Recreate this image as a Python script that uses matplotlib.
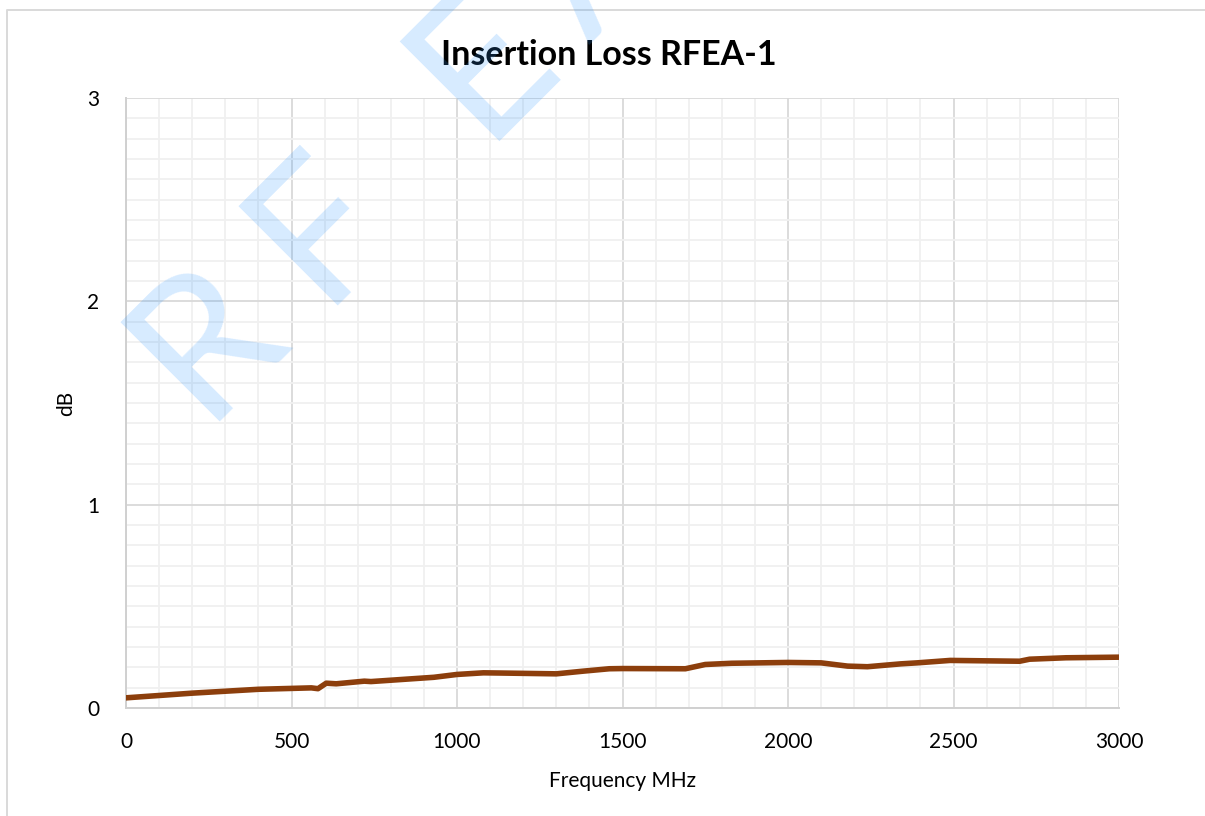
"""Insertion loss of RFEA-1 versus frequency, Excel-style chart."""

from matplotlib import pyplot
from matplotlib.lines import Line2D
from matplotlib.ticker import MultipleLocator

# Values.
freq_mhz = [0, 200, 400, 560, 580, 605, 635, 720, 740, 930, 1000, 1080,
            1130, 1300, 1380, 1460, 1500, 1690, 1750, 1830, 2000, 2100,
            2180, 2240, 2340, 2390, 2490, 2700, 2730, 2840, 3000]
loss_db = [0.050, 0.073, 0.092, 0.099, 0.095, 0.122, 0.119, 0.132, 0.130,
           0.151, 0.165, 0.173, 0.172, 0.168, 0.181, 0.193, 0.194, 0.193,
           0.214, 0.220, 0.224, 0.222, 0.206, 0.203, 0.217, 0.222, 0.234,
           0.230, 0.240, 0.247, 0.250]

title = 'Insertion Loss RFEA-1'
xlabel = 'Frequency MHz'
ylabel = 'dB'
watermark = ['R', 'F', 'E', 'A']

W, H = 1205, 816
pyplot.rc('font', family=['Lato', 'DejaVu Sans'], size=15)
fig = pyplot.figure(figsize=(W / 100, H / 100), dpi=100)

# Axes placed in pixel terms of the reference.
x0, x1, y0, y1 = 126, 1119, 98, 708
ax = fig.add_axes([x0 / W, 1 - y1 / H, (x1 - x0) / W, (y1 - y0) / H])

ax.plot(freq_mhz, loss_db, color='#8c3e0c', lw=4.0,
        solid_capstyle='round', solid_joinstyle='round', zorder=3)

ax.set_xlim(0, 3000)
ax.set_ylim(0, 3)
ax.xaxis.set_major_locator(MultipleLocator(500))
ax.xaxis.set_minor_locator(MultipleLocator(100))
ax.yaxis.set_major_locator(MultipleLocator(1))
ax.yaxis.set_minor_locator(MultipleLocator(0.1))
ax.grid(which='major', color='#d9d9d9', lw=1.3)
ax.grid(which='minor', color='#f0f0f0', lw=1.3)
ax.set_axisbelow(True)
ax.tick_params(which='both', length=0)
ax.tick_params(axis='x', pad=17)
ax.tick_params(axis='y', pad=19)
for side in ['top', 'right']:
    ax.spines[side].set_visible(False)
for side in ['left', 'bottom']:
    ax.spines[side].set_color('#d0d0d0')
    ax.spines[side].set_linewidth(1.4)

ax.set_xlabel(xlabel, fontsize=15)
ax.set_ylabel(ylabel, fontsize=15)
ax.xaxis.set_label_coords(0.5, -0.103)
ax.yaxis.set_label_coords(-0.050, 0.5)

fig.text(609 / W, 1 - 65 / H, title, ha='center', va='baseline',
         fontsize=24.5, fontweight='bold')

# Chart-area frame (top and left edges visible in the reference).
fig.add_artist(Line2D([7 / W, 7 / W, 1], [0, 1 - 9.5 / H, 1 - 9.5 / H],
                      transform=fig.transFigure, color='#d9d9d9', lw=1.4))

# Semi-transparent watermark letters, rotated 45 degrees.
origins = [(202, 421), (320, 305), (482, 141), (588, 45)]
for letter, (px, py) in zip(watermark, origins):
    fig.text(px / W, 1 - py / H, letter, rotation=45, rotation_mode='anchor',
             ha='left', va='baseline', fontsize=142, color='#3399ff',
             alpha=0.2, family='Lato', fontweight='normal', zorder=10)

fig.savefig('out.png', dpi=100)
